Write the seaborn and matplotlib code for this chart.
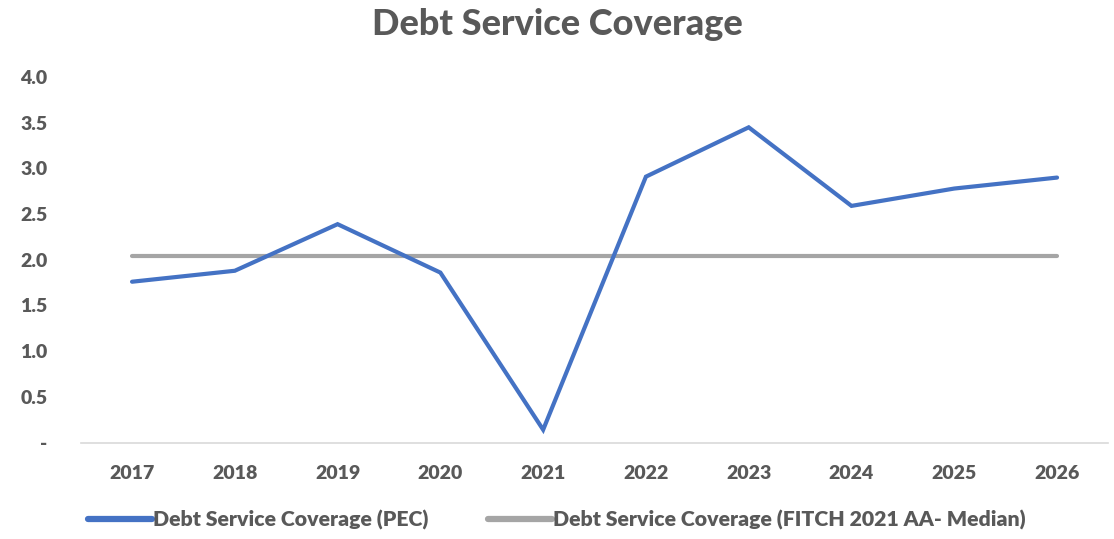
import pandas as pd
import matplotlib.pyplot as plt
import seaborn as sns

# Datos del gráfico
years = ["2017", "2018", "2019", "2020", "2021", "2022", "2023", "2024", "2025", "2026"]
pec = [1.76, 1.88, 2.39, 1.86, 0.14, 2.91, 3.45, 2.59, 2.78, 2.90]
fitch = [2.04] * len(years)
series_names = ["Debt Service Coverage (PEC)", "Debt Service Coverage (FITCH 2021 AA- Median)"]
y_ticks = [0, 0.5, 1.0, 1.5, 2.0, 2.5, 3.0, 3.5, 4.0]

df = pd.DataFrame({
    "year": years * 2,
    "value": pec + fitch,
    "series": [series_names[0]] * len(years) + [series_names[1]] * len(years),
})

sns.set_theme(style="white")
plt.rcParams["font.family"] = ["Lato", "DejaVu Sans"]
text_color = "#595959"

fig = plt.figure(figsize=(11.14, 5.39), dpi=100)
ax = fig.add_axes([0.0724, 0.179, 0.9226, 0.678])

palette = {series_names[0]: "#4472C4", series_names[1]: "#A5A5A5"}
sns.lineplot(data=df, x="year", y="value", hue="series", palette=palette,
             hue_order=[series_names[1], series_names[0]],
             linewidth=3.0, ax=ax, legend=False, sort=False)
for line in ax.lines:
    line.set_solid_capstyle("round")
    line.set_solid_joinstyle("miter")

ax.set_xlim(-0.5, len(years) - 0.5)
ax.set_ylim(0, 4.0)
ax.set_yticks(y_ticks)
ax.set_yticklabels(["-" if t == 0 else f"{t:.1f}" for t in y_ticks])
ax.set_xlabel("")
ax.set_ylabel("")

for s in ["top", "right", "left"]:
    ax.spines[s].set_visible(False)
ax.spines["bottom"].set_color("#D9D9D9")
ax.spines["bottom"].set_linewidth(1.2)
ax.tick_params(axis="both", length=0, labelsize=14, labelcolor=text_color)
ax.tick_params(axis="y", pad=24)
ax.tick_params(axis="x", pad=16)
for lbl in ax.get_xticklabels() + ax.get_yticklabels():
    lbl.set_fontweight(800)

fig.suptitle("Debt Service Coverage", x=0.5, y=0.985, fontsize=26,
             fontweight=900, color=text_color)

handles = [plt.Line2D([], [], color=palette[n], linewidth=4.5, solid_capstyle="round") for n in series_names]
fig.legend(handles, series_names, loc="lower center", bbox_to_anchor=(0.5, -0.018),
           ncol=2, frameon=False, handlelength=3.0, handletextpad=0.05,
           columnspacing=2.8, prop={"weight": 800, "size": 15.3},
           labelcolor=text_color)

fig.savefig("out.png", dpi=100)
